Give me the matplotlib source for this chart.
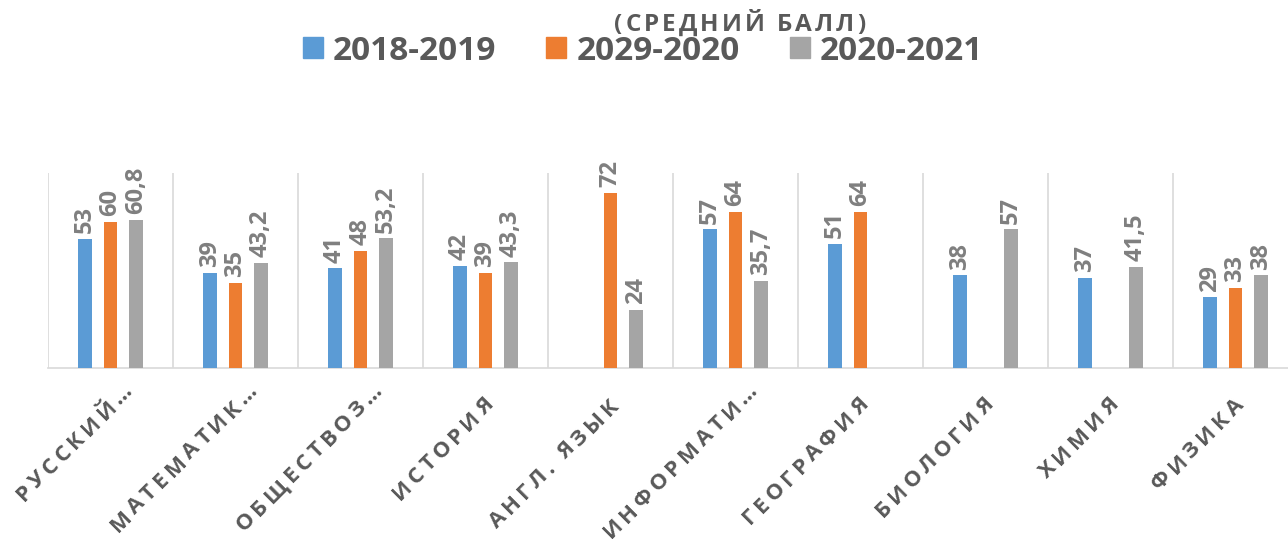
import matplotlib
matplotlib.use("Agg")
import matplotlib.pyplot as plt
import matplotlib.transforms as mtransforms
from matplotlib.font_manager import FontProperties
import numpy as np

categories = ["РУССКИЙ…", "МАТЕМАТИК…", "ОБЩЕСТВОЗ…", "ИСТОРИЯ", "АНГЛ. ЯЗЫК",
              "ИНФОРМАТИ…", "ГЕОГРАФИЯ", "БИОЛОГИЯ", "ХИМИЯ", "ФИЗИКА"]
series_names = ["2018-2019", "2029-2020", "2020-2021"]
s2018 = [53, 39, 41, 42, None, 57, 51, 38, 37, 29]
s2019 = [60, 35, 48, 39, 72, 64, 64, None, None, 33]
s2020 = [60.8, 43.2, 53.2, 43.3, 24, 35.7, None, 57, 41.5, 38]
colors = ["#5B9BD5", "#ED7D31", "#A5A5A5"]
subtitle = "(СРЕДНИЙ БАЛЛ)"

W, H = 1288, 539
fig = plt.figure(figsize=(W / 100, H / 100), dpi=100)
ax = fig.add_axes([48 / W, (H - 368) / H, 1250 / W, 195 / H])
renderer = fig.canvas.get_renderer()


def advance(ch, prop):
    w1 = renderer.get_text_width_height_descent("H" + ch + "H", prop, ismath=False)[0]
    w0 = renderer.get_text_width_height_descent("HH", prop, ismath=False)[0]
    return w1 - w0


def tracked_text(px, py, s, prop, track, angle, align, color):
    """Draw letter-spaced text; (px, py) in display pixels is the right end
    (align='right') or the centre (align='center') of the baseline."""
    widths = [advance(ch, prop) for ch in s]
    L = sum(widths) + track * (len(s) - 1)
    d = np.array([np.cos(np.radians(angle)), np.sin(np.radians(angle))])
    p0 = np.array([px, py]) - (L if align == "right" else L / 2) * d
    pos = 0.0
    for ch, w in zip(s, widths):
        p = p0 + pos * d
        fig.text(p[0] / W, p[1] / H, ch, rotation=angle, rotation_mode="anchor",
                 ha="left", va="baseline", fontproperties=prop, color=color)
        pos += w + track


n = len(categories)
x = np.arange(n)
bw = 0.105
offs = [-0.204, 0, 0.204]
label_color = "#7F7F7F"
for vals, col, off in zip([s2018, s2019, s2020], colors, offs):
    for i, v in enumerate(vals):
        if v is None:
            continue
        ax.bar(x[i] + off, v, width=bw, color=col, zorder=3)
        txt = (f"{v:g}").replace(".", ",")
        ax.annotate(txt, (x[i] + off, v), xytext=(0, 4), textcoords="offset points",
                    rotation=90, ha="center", va="bottom", fontsize=17,
                    color=label_color, family="Open Sans", fontweight="bold")

ax.set_xlim(-0.5, n - 0.5)
ax.set_ylim(0, 80)
for b in np.arange(-0.5, n, 1.0):
    ax.axvline(b, color="#D9D9D9", lw=1.2, zorder=1)
for sp in ["top", "right", "left"]:
    ax.spines[sp].set_visible(False)
ax.spines["bottom"].set_color("#D9D9D9")
ax.spines["bottom"].set_linewidth(1.2)
ax.set_yticks([])
ax.set_xticks([])

# category labels, rotated 45 degrees, letter-spaced
tick_prop = FontProperties(family="Open Sans", weight="bold", size=16)
for i, c in enumerate(categories):
    bx, by = ax.transData.transform((x[i], 0))
    dx, dy = 9, -38
    if c.endswith("…"):
        dx += 14
        dy += 14
    tracked_text(bx + dx, by + dy, c, tick_prop, 4.0, 45, "right", "#595959")

# subtitle (first title line lies above the visible area)
sub_prop = FontProperties(family="Open Sans", weight="bold", size=17.5)
tracked_text(740, H - 31, subtitle, sub_prop, 3.0, 0, "center", "#595959")

handles = [plt.Rectangle((0, 0), 1, 1, color=c) for c in colors]
leg = fig.legend(handles, series_names, loc="center", bbox_to_anchor=(643 / W, 1 - 51 / H),
                 ncol=3, frameon=False, handlelength=0.6, handleheight=0.6,
                 columnspacing=1.5, handletextpad=0.3, borderpad=0.0,
                 prop={"family": "Open Sans", "weight": "bold", "size": 24})
clip = mtransforms.TransformedBbox(mtransforms.Bbox([[0, 1 - 60 / H], [1, 1]]), fig.transFigure)
for t in leg.get_texts():
    t.set_color("#595959")
    t.set_clip_box(clip)
    t.set_clip_on(True)

fig.savefig("out.png", dpi=100)
